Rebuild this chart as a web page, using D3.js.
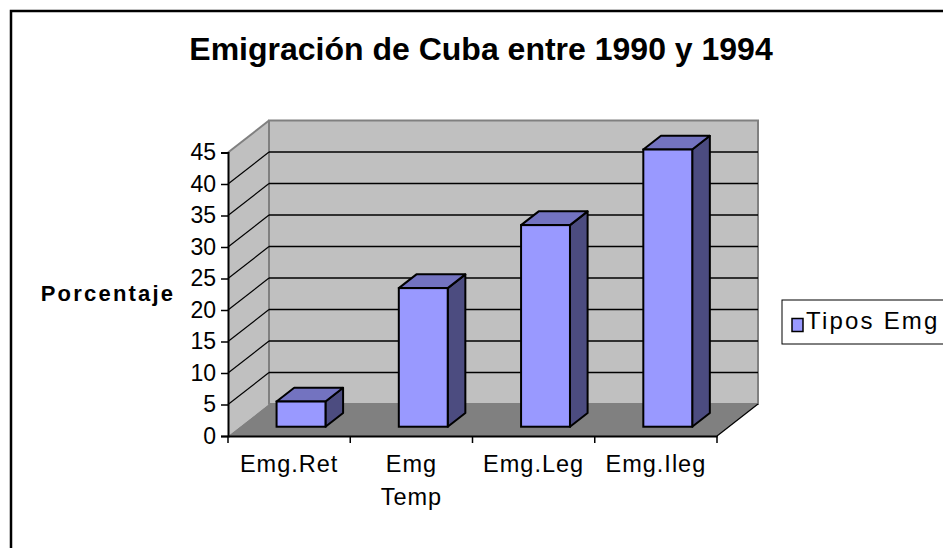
<!DOCTYPE html>
<html>
<head>
<meta charset="utf-8">
<script src="https://cdn.jsdelivr.net/npm/d3@7"></script>
<style>
  html, body { margin: 0; padding: 0; background: #fff; }
  svg { display: block; font-family: "Liberation Sans", Arial, sans-serif; }
</style>
</head>
<body>
<div id="chart"></div>
<script>
////////////////////////////////////////////////////////////////////
////  Data
var categories = ['Emg.Ret', 'Emg Temp', 'Emg.Leg', 'Emg.Ileg'];
var values = [4, 22, 32, 44];
var yTicks = [0, 5, 10, 15, 20, 25, 30, 35, 40, 45];
var seriesName = 'Tipos Emg';
var chartTitle = 'Emigración de Cuba entre 1990 y 1994';
var yTitle = 'Porcentaje';

////////////////////////////////////////////////////////////////////
////  Layout
var width = 943, height = 548;
var depthX = 41, depthY = -32;          // offset of the back wall
var barFront = 0.29, barBack = 0.72;    // bar depth inside the floor

var svg = d3.select('#chart')
  .append('svg')
    .attr('width', width)
    .attr('height', height);

// outer frame
svg.append('rect')
  .attr('x', 11).attr('y', 11)
  .attr('width', 1000).attr('height', 1000)
  .attr('fill', '#fff')
  .attr('stroke', '#000')
  .attr('stroke-width', 2.5);

var x = d3.scaleBand()
  .domain(categories)
  .range([228, 717])
  .padding(0);

var y = d3.scaleLinear()
  .domain([0, 45])
  .range([436, 152.5]);

var x0 = x.range()[0], x1 = x.range()[1];
var yBase = y(0), yTop = y(45);

////////////////////////////////////////////////////////////////////
////  Walls and floor
// back wall
svg.append('rect')
  .attr('x', x0 + depthX).attr('y', yTop + depthY)
  .attr('width', x1 - x0).attr('height', yBase - yTop)
  .attr('fill', '#c0c0c0')
  .attr('stroke', '#808080')
  .attr('stroke-width', 2);

// left side wall
svg.append('path')
  .attr('d', 'M' + x0 + ',' + yBase + 'L' + x0 + ',' + yTop +
             'L' + (x0 + depthX) + ',' + (yTop + depthY) +
             'L' + (x0 + depthX) + ',' + (yBase + depthY) + 'Z')
  .attr('fill', '#c0c0c0');
svg.append('line')
  .attr('x1', x0).attr('y1', yTop)
  .attr('x2', x0 + depthX).attr('y2', yTop + depthY)
  .attr('stroke', '#808080').attr('stroke-width', 2);
svg.append('line')
  .attr('x1', x0 + depthX).attr('y1', yTop + depthY)
  .attr('x2', x0 + depthX).attr('y2', yBase + depthY)
  .attr('stroke', '#808080').attr('stroke-width', 2);

// floor
svg.append('path')
  .attr('d', 'M' + x0 + ',' + yBase + 'L' + x1 + ',' + yBase +
             'L' + (x1 + depthX) + ',' + (yBase + depthY) +
             'L' + (x0 + depthX) + ',' + (yBase + depthY) + 'Z')
  .attr('fill', '#808080');

// gridlines on back wall and side wall
var inner = yTicks.filter(function(d){ return d > 0 && d < 45; });
svg.selectAll('.grid')
  .data(inner)
  .enter()
  .append('line')
    .attr('x1', x0 + depthX).attr('x2', x1 + depthX)
    .attr('y1', function(d){ return y(d) + depthY; })
    .attr('y2', function(d){ return y(d) + depthY; })
    .attr('stroke', '#000').attr('stroke-width', 1.3);
svg.selectAll('.sidegrid')
  .data(inner)
  .enter()
  .append('line')
    .attr('x1', x0).attr('y1', function(d){ return y(d); })
    .attr('x2', x0 + depthX).attr('y2', function(d){ return y(d) + depthY; })
    .attr('stroke', '#000').attr('stroke-width', 1.2);

// floor right edge
svg.append('line')
  .attr('x1', x1).attr('y1', yBase)
  .attr('x2', x1 + depthX).attr('y2', yBase + depthY)
  .attr('stroke', '#000').attr('stroke-width', 1.2);

////////////////////////////////////////////////////////////////////
////  Axes
var yAxis = d3.axisLeft(y)
  .tickValues(yTicks)
  .tickSize(7)
  .tickPadding(5);
var gy = svg.append('g')
  .attr('transform', 'translate(' + x0 + ',0)')
  .call(yAxis);
gy.select('.domain').attr('stroke', '#000').attr('stroke-width', 2);
gy.selectAll('.tick line').attr('stroke', '#000').attr('stroke-width', 1.5);
gy.selectAll('.tick text')
  .attr('font-size', 23)
  .attr('fill', '#000')
  .attr('font-family', '"Liberation Sans", Arial, sans-serif');

var xAxis = d3.axisBottom(x).tickSize(0).tickFormat('');
var gx = svg.append('g')
  .attr('transform', 'translate(0,' + yBase + ')')
  .call(xAxis);
gx.select('.domain').attr('stroke', '#000').attr('stroke-width', 2);

// tick marks at the band edges
var edges = categories.map(function(c){ return x(c); }).concat([x1]);
svg.selectAll('.xtick')
  .data(edges)
  .enter()
  .append('line')
    .attr('x1', function(d){ return d; }).attr('x2', function(d){ return d; })
    .attr('y1', yBase).attr('y2', yBase + 7)
    .attr('stroke', '#000').attr('stroke-width', 1.5);

// category labels, wrapped at spaces
var labels = svg.selectAll('.xlabel')
  .data(categories)
  .enter()
  .append('text')
    .attr('x', function(d){ return x(d) + x.bandwidth() / 2; })
    .attr('y', 472)
    .attr('text-anchor', 'middle')
    .attr('font-size', 23.5)
    .attr('letter-spacing', 1)
    .attr('fill', '#000');
labels.each(function(d){
  var parts = d.split(' ');
  var t = d3.select(this);
  parts.forEach(function(p, i){
    t.append('tspan')
      .attr('x', x(d) + x.bandwidth() / 2)
      .attr('dy', i === 0 ? 0 : 33)
      .text(p);
  });
});

////////////////////////////////////////////////////////////////////
////  3D bars
var bw = x.bandwidth() * 0.4;
var fx = depthX * barFront, fy = depthY * barFront;
var bx = depthX * barBack, by = depthY * barBack;
var ddx = bx - fx, ddy = by - fy;

var bars = svg.selectAll('.bar')
  .data(categories.map(function(c, i){ return {key: c, value: values[i]}; }))
  .enter()
  .append('g');

bars.each(function(d){
  var g = d3.select(this);
  var left = x(d.key) + x.bandwidth() / 2 - bw / 2 + fx;
  var right = left + bw;
  var top = y(d.value) + fy;
  var bottom = yBase + fy;
  // side face
  g.append('path')
    .attr('d', 'M' + right + ',' + bottom + 'L' + right + ',' + top +
               'L' + (right + ddx) + ',' + (top + ddy) +
               'L' + (right + ddx) + ',' + (bottom + ddy) + 'Z')
    .attr('fill', '#4c4c80').attr('stroke', '#000').attr('stroke-width', 2)
    .attr('stroke-linejoin', 'round');
  // top face
  g.append('path')
    .attr('d', 'M' + left + ',' + top + 'L' + right + ',' + top +
               'L' + (right + ddx) + ',' + (top + ddy) +
               'L' + (left + ddx) + ',' + (top + ddy) + 'Z')
    .attr('fill', '#7373c0').attr('stroke', '#000').attr('stroke-width', 2)
    .attr('stroke-linejoin', 'round');
  // front face
  g.append('rect')
    .attr('x', left).attr('y', top)
    .attr('width', bw).attr('height', bottom - top)
    .attr('fill', '#9999ff').attr('stroke', '#000').attr('stroke-width', 2);
});

////////////////////////////////////////////////////////////////////
////  Titles and legend
svg.append('text')
  .attr('x', 481).attr('y', 60)
  .attr('text-anchor', 'middle')
  .attr('font-size', 32)
  .attr('font-weight', 'bold')
  .text(chartTitle);

svg.append('text')
  .attr('x', 108).attr('y', 301)
  .attr('text-anchor', 'middle')
  .attr('font-size', 22)
  .attr('font-weight', 'bold')
  .attr('letter-spacing', 2.2)
  .text(yTitle);

var legend = svg.append('g').attr('transform', 'translate(782,300)');
legend.append('rect')
  .attr('width', 200).attr('height', 44)
  .attr('fill', '#fff').attr('stroke', '#000').attr('stroke-width', 1);
legend.append('rect')
  .attr('x', 10).attr('y', 18.5).attr('width', 11).attr('height', 13)
  .attr('fill', '#9999ff').attr('stroke', '#000').attr('stroke-width', 1.5);
legend.append('text')
  .attr('x', 24).attr('y', 29)
  .attr('font-size', 24)
  .attr('letter-spacing', 2.2)
  .text(seriesName);
</script>
</body>
</html>
